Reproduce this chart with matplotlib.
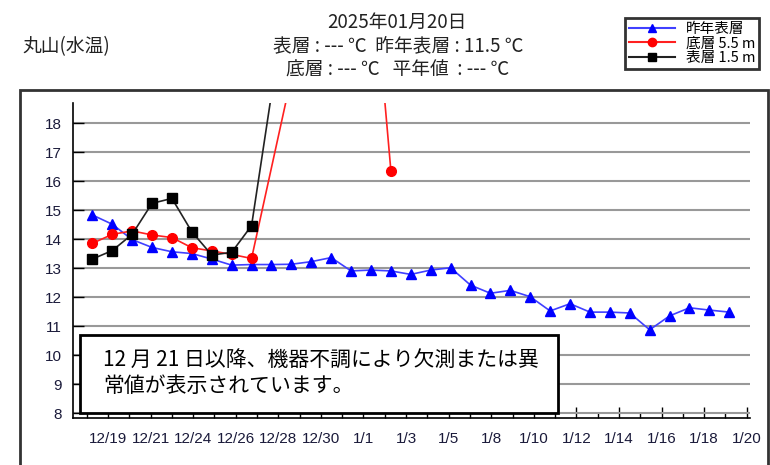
import numpy as np
import matplotlib
matplotlib.use("Agg")
import matplotlib.pyplot as plt
from matplotlib.patches import Rectangle
from matplotlib.lines import Line2D

plt.rcParams['font.family'] = ['Noto Sans CJK JP', 'DejaVu Sans']

nan = np.nan

# day index 0 = 12/18 ... 32 = 1/19
last_year_surface = [14.84, 14.52, 13.99, 13.72, 13.57, 13.51, 13.32, 13.11, 13.13, 13.13,
                     13.14, 13.23, 13.37, 12.91, 12.94, 12.91, 12.79, 12.94, 13.02, 12.42,
                     12.14, 12.24, 12.02, 11.53, 11.78, 11.49, 11.49, 11.46, 10.88, 11.36,
                     11.64, 11.56, 11.49]
bottom_5_5m = [13.86, 14.17, 14.29, 14.15, 14.06, 13.71, 13.60, 13.48, 13.34, nan,
               19.6, nan, nan, nan, 24.2, 16.36] + [nan] * 17
surface_1_5m = [13.32, 13.61, 14.17, 15.24, 15.41, 14.26, 13.46, 13.55, 14.47, 19.0] + [nan] * 23

tick_labels = ["12/19", "12/21", "12/24", "12/26", "12/28", "12/30", "1/1", "1/3",
               "1/5", "1/8", "1/10", "1/12", "1/14", "1/16", "1/18", "1/20"]

title_date = "2025年01月20日"
title_line2 = "表層 : --- ℃  昨年表層 : 11.5 ℃"
title_line3 = "底層 : --- ℃   平年値  : --- ℃"
station = "丸山(水温)"
note = "12 月 21 日以降、機器不調により欠測または異\n常値が表示されています。"

W, H = 770, 465
fig = plt.figure(figsize=(W / 100, H / 100), dpi=100)

# outer frame
fig.patches.append(Rectangle((20 / W, -0.05), 748 / W, 1.05 - 90 / H, transform=fig.transFigure,
                             fill=False, edgecolor="#333333", linewidth=2))

ax = fig.add_axes([73 / W, 1 - 417.7 / H, 677 / W, 315 / H])


def draw(vals, color, lcolor, marker, ms):
    v = np.array(vals, dtype=float)
    x = np.arange(len(v))
    ok = ~np.isnan(v)
    ax.plot(x[ok], v[ok], color=lcolor, lw=1.2, marker=marker, ms=ms,
            markerfacecolor=color, markeredgecolor=color, zorder=3)


draw(last_year_surface, "#0000ff", "#4040ff", "^", 7.5)
draw(bottom_5_5m, "#ff0000", "#ff2020", "o", 7)
draw(surface_1_5m, "#000000", "#222222", "s", 7.5)

ax.set_xlim(-0.97, 33.04)
ax.set_ylim(7.85, 18.71)
ax.set_yticks(range(8, 19))
ax.grid(axis="y", color="#999999", lw=1.5)
ax.set_axisbelow(True)

ticks = np.linspace(-0.283, 32.875, 32)
ax.set_xticks(ticks[1::2])
ax.set_xticks(ticks[0::2], minor=True)
ax.set_xticklabels(tick_labels, family=['Liberation Sans', 'DejaVu Sans'],
                   fontsize=11, color="#1a1a3a")
for lab in ax.get_yticklabels():
    lab.set_family(['Liberation Sans', 'DejaVu Sans'])
    lab.set_fontsize(11)
    lab.set_color("#1a1a3a")
ax.tick_params(axis="x", which="major", direction="in", length=8, width=1, pad=10)
ax.tick_params(axis="x", which="minor", direction="in", length=4, width=1)
ax.tick_params(axis="y", direction="in", length=8, width=1, pad=8)

for s in ["top", "right"]:
    ax.spines[s].set_visible(False)
for s in ["left", "bottom"]:
    ax.spines[s].set_linewidth(1.2)

# note box
fig.patches.append(Rectangle((80 / W, 1 - 413 / H), 478 / W, 78 / H, transform=fig.transFigure,
                             facecolor="white", edgecolor="black", linewidth=2, zorder=5))
fig.text(103 / W, 1 - 373 / H, note, fontsize=15, va="center", ha="left",
         linespacing=1.2, zorder=6)

# titles
fig.text(397 / W, 1 - 22 / H, title_date, fontsize=13.5, ha="center", va="center", color="#222222")
fig.text(398 / W, 1 - 46 / H, title_line2, fontsize=13.5, ha="center", va="center", color="#222222")
fig.text(398 / W, 1 - 70 / H, title_line3, fontsize=13.5, ha="center", va="center", color="#222222")
fig.text(22 / W, 1 - 47 / H, station, fontsize=13.5, ha="left", va="center", color="#222222")

handles = [
    Line2D([], [], color="#4040ff", marker="^", markerfacecolor="#0000ff", markeredgecolor="#0000ff", ms=6),
    Line2D([], [], color="#ff2020", marker="o", markerfacecolor="#ff0000", markeredgecolor="#ff0000", ms=6),
    Line2D([], [], color="#222222", marker="s", markerfacecolor="#000000", markeredgecolor="#000000", ms=6),
]
leg = fig.legend(handles, ["昨年表層", "底層 5.5 m", "表層 1.5 m"], loc="upper left",
                 bbox_to_anchor=(625 / W, 1 - 18 / H), fontsize=10.5, frameon=True, fancybox=False,
                 edgecolor="black", handlelength=3.2, handletextpad=0.7, borderpad=0.25,
                 labelspacing=0.05, borderaxespad=0)
leg.get_frame().set_linewidth(2)

fig.savefig("out.png", dpi=100)
